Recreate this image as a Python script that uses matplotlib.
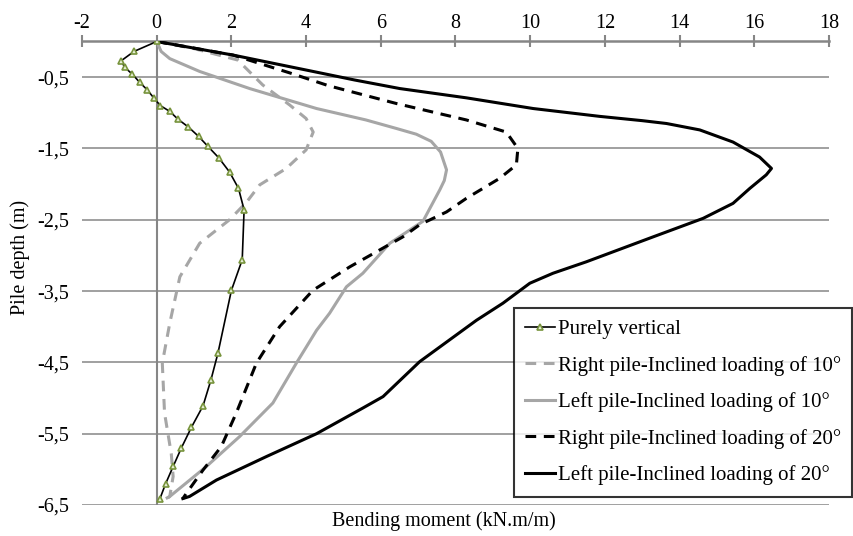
import matplotlib
matplotlib.use("Agg")
import matplotlib.pyplot as plt
from matplotlib.ticker import FuncFormatter

plt.rcParams['font.family'] = ['Liberation Serif', 'DejaVu Serif']
plt.rcParams['axes.unicode_minus'] = False

# ---- data (bending moment kN.m/m, depth m) ----
pv_x = [0.0, -0.61, -0.95, -0.86, -0.65, -0.46, -0.25, -0.08, 0.10, 0.35, 0.57, 0.85,
        1.12, 1.37, 1.66, 1.95, 2.19, 2.34, 2.29, 2.00, 1.64, 1.45, 1.24, 0.93, 0.66,
        0.44, 0.24, 0.08]
pv_y = [0.0, -0.14, -0.27, -0.36, -0.46, -0.57, -0.68, -0.79, -0.90, -0.98, -1.09, -1.20,
        -1.33, -1.47, -1.63, -1.83, -2.06, -2.36, -3.06, -3.49, -4.37, -4.75, -5.11, -5.41,
        -5.70, -5.96, -6.20, -6.42]

r10_x = [0.0, 1.0, 2.17, 2.84, 3.56, 4.0, 4.19, 4.0, 3.47, 2.76, 2.41, 1.95, 1.15, 0.62,
         0.35, 0.15, 0.21, 0.39, 0.44, 0.35, 0.30]
r10_y = [0.0, -0.10, -0.26, -0.61, -0.89, -1.08, -1.27, -1.52, -1.78, -2.01, -2.25, -2.50,
         -2.83, -3.30, -3.95, -4.51, -5.21, -5.78, -6.10, -6.38, -6.40]

l10_x = [0.0, 0.12, 0.35, 1.15, 2.49, 4.28, 5.6, 6.42, 6.95, 7.35, 7.6, 7.76, 7.70, 7.58,
         7.13, 6.24, 5.52, 5.08, 4.63, 4.28, 3.74, 3.11, 2.22, 1.33, 0.35, 0.28]
l10_y = [0.0, -0.14, -0.24, -0.42, -0.66, -0.94, -1.10, -1.22, -1.30, -1.40, -1.55, -1.80,
         -1.95, -2.08, -2.52, -2.83, -3.25, -3.44, -3.81, -4.05, -4.51, -5.07, -5.54, -5.96,
         -6.38, -6.40]

r20_x = [0.0, 2.04, 3.56, 4.6, 6.42, 8.29, 9.36, 9.67, 9.63, 9.18, 8.29, 7.76, 7.04, 6.59,
         5.17, 4.18, 3.29, 2.67, 2.13, 1.73, 1.24, 0.79, 0.70]
r20_y = [0.0, -0.19, -0.44, -0.62, -0.87, -1.10, -1.27, -1.50, -1.73, -1.92, -2.20, -2.39,
         -2.57, -2.74, -3.16, -3.49, -4.00, -4.51, -5.21, -5.68, -6.01, -6.34, -6.41]

l20_x = [0.0, 2.04, 4.0, 5.3, 6.51, 8.29, 10.08, 11.86, 13.0, 13.65, 14.54, 15.43, 16.14,
         16.46, 16.32, 15.88, 15.43, 14.63, 13.29, 11.50, 10.61, 9.99, 9.27, 8.56, 7.04,
         6.06, 5.52, 4.28, 2.94, 1.60, 0.88, 0.70]
l20_y = [0.0, -0.19, -0.40, -0.54, -0.66, -0.79, -0.94, -1.05, -1.11, -1.15, -1.24, -1.41,
         -1.62, -1.78, -1.87, -2.06, -2.27, -2.48, -2.74, -3.09, -3.25, -3.39, -3.67, -3.91,
         -4.49, -4.98, -5.14, -5.50, -5.82, -6.15, -6.38, -6.41]

labels = ["Purely vertical", "Right pile-Inclined loading of 10°",
          "Left pile-Inclined loading of 10°", "Right pile-Inclined loading of 20°",
          "Left pile-Inclined loading of 20°"]

x_ticks = [-2, 0, 2, 4, 6, 8, 10, 12, 14, 16, 18]
y_ticks = [-0.5, -1.5, -2.5, -3.5, -4.5, -5.5, -6.5]

GRID = '#868686'
LGRAY = '#A6A6A6'

fig = plt.figure(figsize=(8.54, 5.36), dpi=100)
ax = fig.add_axes([82/854, 1-505/536, (829-82)/854, (505-41.5)/536])

ax.set_xlim(-2, 18)
ax.set_ylim(-6.5, 0)

for yv in y_ticks:
    ax.axhline(yv, color=GRID, lw=1.1, zorder=1)
ax.axvline(0, color=GRID, lw=1.5, zorder=1)

ax.plot(pv_x, pv_y, color='black', lw=1.2, marker='^', markersize=5,
        markerfacecolor='#E6EED5', markeredgecolor='#77933C', markeredgewidth=1.2,
        label=labels[0], zorder=5)
ax.plot(r10_x, r10_y, color=LGRAY, lw=2.2, dashes=(3.5, 2.5), label=labels[1], zorder=3)
ax.plot(l10_x, l10_y, color=LGRAY, lw=2.2, label=labels[2], zorder=3)
ax.plot(r20_x, r20_y, color='black', lw=2.2, dashes=(3.5, 2.5), label=labels[3], zorder=4)
ax.plot(l20_x, l20_y, color='black', lw=2.2, label=labels[4], zorder=4)

for s in ['left', 'right', 'bottom']:
    ax.spines[s].set_visible(False)
ax.spines['top'].set_color(GRID)
ax.spines['top'].set_linewidth(1.8)

ax.xaxis.tick_top()
ax.set_xticks(x_ticks)
ax.tick_params(axis='x', direction='inout', length=8, width=1.5, color=GRID,
               labelsize=14.5, pad=2)
ax.set_yticks(y_ticks)
ax.yaxis.set_major_formatter(FuncFormatter(lambda v, p: ('%.1f' % v).replace('.', ',')))
ax.tick_params(axis='y', length=0, labelsize=14.5, pad=9)

fig.text(444/854, 1-521/536, "Bending moment (kN.m/m)", ha='center', va='center', fontsize=14.5)
fig.text(20/854, 1-257/536, "Pile depth (m)", ha='center', va='center', rotation=90, fontsize=14.5)

leg = ax.legend(loc='upper left', bbox_to_anchor=(514/854, 1-308/536),
                bbox_transform=fig.transFigure, fontsize=15, frameon=True,
                fancybox=False, handlelength=1.4, handletextpad=0.15,
                labelspacing=0.8, borderpad=0.55, borderaxespad=0)
leg.get_frame().set_edgecolor('black')
leg.get_frame().set_linewidth(1.5)
leg.set_zorder(10)

fig.savefig("out.png", dpi=100)
